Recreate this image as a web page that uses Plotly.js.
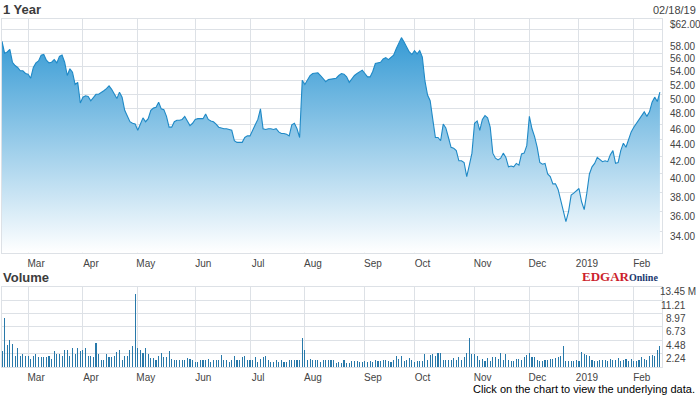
<!DOCTYPE html>
<html><head><meta charset="utf-8">
<script src="https://cdn.plot.ly/plotly-3.0.1.min.js"></script>
<style>html,body{margin:0;padding:0;background:#fff}#chart{width:700px;height:395px}</style>
</head><body><div id="chart"></div>
<script>
// ---- data ----
const startDate = '2018-02-14';
const endDate = '2019-02-15';
const holidays = ['2018-02-19','2018-03-30','2018-05-28','2018-07-04','2018-09-03','2018-11-22','2018-12-05','2018-12-25','2019-01-01','2019-01-21'];

const price = [
58.0,56.1,56.3,56.7,54.7,54.2,53.9,53.4,53.4,53.0,
52.9,52.3,53.9,54.6,54.9,55.8,55.9,55.0,54.6,54.7,
55.1,54.6,55.6,55.8,54.7,52.7,53.7,53.2,51.4,51.7,
48.8,49.6,49.8,49.7,49.1,49.6,50.0,50.0,50.2,50.5,
50.8,51.2,50.7,50.0,49.4,50.3,49.6,47.8,47.1,46.3,
46.1,46.0,45.2,45.9,46.8,46.3,46.7,47.8,48.1,48.2,
48.9,48.0,47.9,47.0,45.6,45.6,46.3,46.5,46.5,46.6,
47.0,46.4,45.8,46.1,46.6,46.7,46.7,46.7,47.3,46.6,
46.4,46.3,46.0,45.6,45.5,45.4,45.4,45.3,45.2,43.9,
43.7,43.7,43.7,44.3,44.5,44.5,45.3,45.9,46.6,48.0,
45.4,45.3,45.4,45.4,45.3,45.4,45.0,44.8,44.8,44.7,
44.5,45.9,46.1,45.4,44.3,52.0,51.4,52.1,52.7,53.0,
53.1,53.1,52.7,52.3,51.8,52.1,52.2,52.2,52.3,52.7,
53.0,52.9,52.5,51.7,52.3,52.7,53.0,53.2,53.5,53.0,
52.5,52.5,53.3,54.5,54.6,54.7,55.2,55.4,55.1,55.5,
55.8,56.8,57.6,58.6,57.9,57.1,56.3,55.9,56.5,56.0,
56.5,55.5,51.9,49.9,49.1,46.6,44.3,44.3,43.9,46.0,
45.5,44.3,43.1,43.0,42.7,41.5,41.5,41.3,39.7,41.0,
42.4,46.1,46.4,45.2,46.6,47.1,46.8,45.6,42.4,41.8,
41.6,41.8,42.4,41.9,40.8,40.9,40.8,41.2,41.0,42.3,
42.4,43.3,47.0,45.4,44.4,43.1,41.3,41.1,41.2,40.0,
39.7,38.9,38.9,38.3,37.2,36.1,35.0,36.0,37.7,37.9,
38.2,38.4,37.0,36.2,37.9,40.0,40.8,41.2,41.9,41.6,
41.4,41.5,41.4,42.2,42.7,41.2,41.3,42.7,43.6,43.1,
44.0,45.0,45.6,46.1,46.6,47.1,47.6,47.0,47.6,48.9,
49.6,49.0,50.3
];

// volume in millions of shares
const volume = [
2.6,8.2,3.7,4.6,3.9,1.9,3.1,1.8,2.1,1.8,
1.8,1.4,1.9,2.1,1.6,1.6,1.6,1.6,1.9,1.4,
2.6,2.1,2.1,1.9,2.9,2.8,1.8,3.2,2.1,3.2,
2.7,2.9,3.2,1.8,1.8,1.6,4.0,2.1,1.2,1.2,
2.1,1.7,1.6,1.8,2.5,2.9,1.2,1.9,1.9,2.9,
3.6,12.3,3.1,2.9,2.3,3.1,2.2,1.5,1.5,1.2,
1.9,2.3,1.6,1.6,2.7,1.4,1.2,1.1,1.2,1.1,
1.1,1.5,1.4,1.2,0.9,0.8,1.1,1.1,1.2,1.3,
0.8,1.1,1.2,1.2,2.0,1.2,1.1,0.8,1.1,1.9,
1.1,1.1,1.7,1.9,1.2,1.1,1.2,1.7,0.9,1.4,
1.7,1.9,1.2,0.9,0.9,1.1,0.9,1.1,0.9,0.9,
1.1,1.1,1.2,1.2,1.2,4.85,2.8,1.2,1.4,1.2,
1.1,1.1,0.9,1.2,1.2,1.2,1.1,1.1,0.7,0.9,
0.7,1.1,0.7,0.6,0.95,0.95,1.06,0.84,0.84,0.95,
0.84,0.95,0.84,1.23,1.06,0.95,1.23,1.23,0.95,0.78,
1.23,1.89,1.39,1.89,0.95,1.23,1.5,1.23,0.78,0.95,
1.06,0.95,2.23,1.23,2.06,2.23,1.89,2.34,2.34,1.23,
1.23,1.23,1.23,1.5,1.23,1.67,1.23,1.67,2.34,4.85,
2.23,2.23,1.89,1.23,1.34,1.06,1.5,0.95,1.67,1.67,
1.39,2.34,1.23,2.23,1.23,0.95,0.95,1.34,1.39,1.23,
1.67,2.06,2.34,1.67,1.67,1.23,1.06,1.06,1.23,1.23,
1.39,1.39,1.5,1.67,1.78,3.56,0.95,0.95,1.06,1.06,
1.23,1.06,2.45,2.23,2.06,1.78,1.23,0.95,1.06,1.23,
1.23,1.23,1.06,1.39,1.23,1.23,1.5,1.06,1.23,1.39,
0.95,1.34,0.95,0.95,1.23,1.62,1.39,1.23,1.78,2.06,
1.89,2.9,3.56
];

const monthTicks = ['2018-03-01','2018-04-02','2018-05-01','2018-06-01','2018-07-02','2018-08-01','2018-09-04','2018-10-01','2018-11-01','2018-12-03','2019-01-02','2019-02-01'];
const monthLabels = ['Mar','Apr','May','Jun','Jul','Aug','Sep','Oct','Nov','Dec','2019','Feb'];
const priceTicks = [34,36,38,40,42,44,46,48,50,52,54,56,58,60,61.74];
const priceTickLabels = ['34.00','36.00','38.00','40.00','42.00','44.00','46.00','48.00','50.00','52.00','54.00','56.00','58.00','','$62.00'];
const priceRange = [32.08, 61.74];
const volumeTicks = [2.24,4.48,6.73,8.97,11.21,13.45];
const volumeTickLabels = ['2.24','4.48','6.73','8.97','11.21','13.45 M'];

// ---- trading calendar ----
function tradingDates(){
  const out = [];
  const d = new Date(startDate + 'T00:00:00Z');
  const end = new Date(endDate + 'T00:00:00Z');
  while (d <= end) {
    const s = d.toISOString().slice(0,10);
    const wd = d.getUTCDay();
    if (wd !== 0 && wd !== 6 && holidays.indexOf(s) < 0) out.push(s);
    d.setUTCDate(d.getUTCDate() + 1);
  }
  return out;
}
const dates = tradingDates();

// ---- layout helpers ----
const W = 700, H = 395, ML = 2, MR = 38, MT = 19, MB = 28;
const PW = W - ML - MR, PH = H - MT - MB;
const px = x => (x - ML) / PW;
const py = y => (H - MB - y) / PH;

const FONT = 'Liberation Sans, Arial, sans-serif';
const GRID = '#dde1e6';
const TXT = '#444444';

const traces = [
  {
    type: 'scatter', mode: 'lines', x: dates, y: price,
    xaxis: 'x', yaxis: 'y',
    line: {color: '#1f89c6', width: 1.1},
    fill: 'tozeroy',
    fillgradient: {type: 'vertical', start: priceRange[0], stop: priceRange[1],
      colorscale: [[0, '#ffffff'], [1, '#2592d1']]},
    hoverinfo: 'skip'
  },
  {
    type: 'bar', x: dates, y: volume, xaxis: 'x2', yaxis: 'y2',
    width: 0.42, marker: {color: '#2879aa', line: {width: 0}},
    hoverinfo: 'skip'
  }
];

const xCommon = {
  type: 'category', range: [0, dates.length - 0.2],
  tickmode: 'array', tickvals: monthTicks, ticktext: monthLabels,
  showgrid: true, gridcolor: GRID, gridwidth: 1,
  showline: true, mirror: true, linecolor: GRID, linewidth: 1,
  ticks: '', zeroline: false,
  tickfont: {family: FONT, size: 10, color: TXT},
  ticklabelshift: 8, ticklabelstandoff: 1
};

const annotations = [
  {text: '<b>1 Year</b>', x: px(1), y: py(10), xref: 'paper', yref: 'paper', xanchor: 'left', yanchor: 'middle', showarrow: false, font: {family: FONT, size: 13, color: '#3c3c3c'}},
  {text: '02/18/19', x: px(698), y: py(10), xref: 'paper', yref: 'paper', xanchor: 'right', yanchor: 'middle', showarrow: false, font: {family: FONT, size: 11, color: TXT}},
  {text: '<b>Volume</b>', x: px(1), y: py(277), xref: 'paper', yref: 'paper', xanchor: 'left', yanchor: 'middle', showarrow: false, font: {family: FONT, size: 13, color: '#3c3c3c'}},
  {text: '<b><span style="color:#cc1f2d;font-size:13px">EDGAR</span><span style="color:#1b3a70;font-size:10px">Online</span></b>', x: px(620), y: py(276), xref: 'paper', yref: 'paper', xanchor: 'center', yanchor: 'middle', showarrow: false, font: {family: 'Liberation Serif, Times New Roman, serif', size: 13, color: '#cc1f2d'}},
  {text: 'Click on the chart to view the underlying data.', x: px(697), y: py(389), xref: 'paper', yref: 'paper', xanchor: 'right', yanchor: 'middle', showarrow: false, font: {family: FONT, size: 11, color: '#000'}}
];
volumeTicks.forEach((v, k) => {
  const lbl = volumeTickLabels[k];
  const wide = lbl.indexOf(' M') >= 0;
  annotations.push({text: lbl, x: px(wide ? 698 : 688), y: v, xref: 'paper', yref: 'y2',
    xanchor: 'right', yanchor: 'middle', yshift: -5, showarrow: false,
    font: {family: FONT, size: 10, color: TXT}});
});

const layout = {
  width: W, height: H, margin: {l: ML, r: MR, t: MT, b: MB, pad: 0},
  paper_bgcolor: '#fff', plot_bgcolor: '#fff', showlegend: false,
  xaxis: Object.assign({}, xCommon, {anchor: 'y', domain: [0, 1]}),
  xaxis2: Object.assign({}, xCommon, {anchor: 'y2', domain: [0, 1]}),
  yaxis: {
    type: 'log', domain: [py(252.7), 1], side: 'right',
    range: [Math.log10(priceRange[0]), Math.log10(priceRange[1])],
    tickmode: 'array', tickvals: priceTicks, ticktext: priceTickLabels,
    showgrid: true, gridcolor: GRID, gridwidth: 1,
    showline: true, mirror: true, linecolor: GRID, zeroline: false, ticks: '',
    tickfont: {family: FONT, size: 10, color: TXT},
    ticklabelshift: 5, ticklabelstandoff: 5
  },
  yaxis2: {
    domain: [0, py(286.7)], side: 'right', range: [0, volumeTicks[volumeTicks.length - 1]],
    tickmode: 'array', tickvals: volumeTicks, showticklabels: false,
    showgrid: true, gridcolor: GRID, gridwidth: 1,
    showline: true, mirror: true, linecolor: GRID, zeroline: false, ticks: ''
  },
  annotations: annotations,
  bargap: 0
};

Plotly.newPlot('chart', traces, layout, {staticPlot: true, displayModeBar: false});
</script>
</body></html>
